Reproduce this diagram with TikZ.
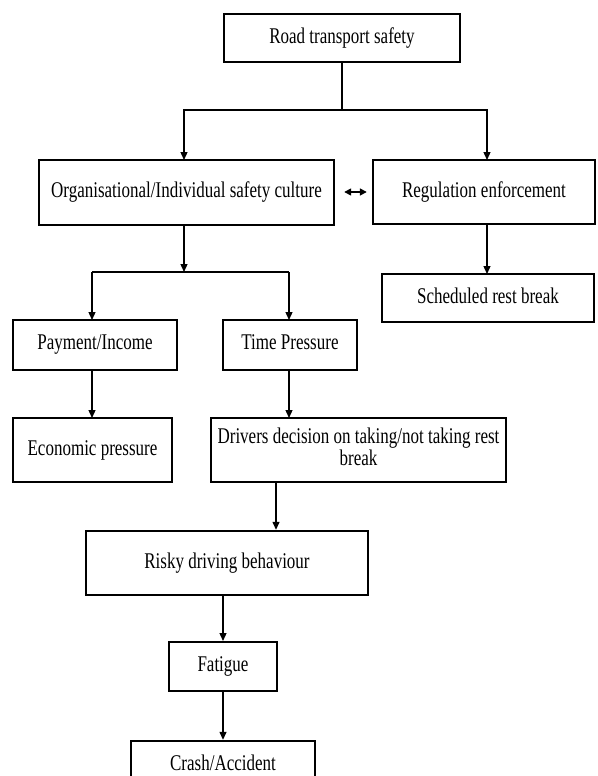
\documentclass[tikz,border=0pt]{standalone}
\usepackage{fontspec}
\setmainfont{Liberation Serif}
\usetikzlibrary{arrows.meta,calc}
\newcommand{\vstr}[1]{\scalebox{1}[1.32]{#1}}
\begin{document}
\begin{tikzpicture}[x=1pt,y=-1pt,
  box/.style={draw, line width=2.4pt, inner sep=0pt, font=\fontsize{17pt}{17pt}\selectfont},
  conn/.style={line width=1.3pt},
  arr/.style={line width=1.3pt, -{Triangle[length=8pt,width=7pt]}},
  darr/.style={line width=1.6pt, {Triangle[length=7pt,width=7pt]}-{Triangle[length=7pt,width=7pt]}}]
\useasboundingbox (0,0) rectangle (597,776);
\clip (0,0) rectangle (597,776);
\fill[white] (0,0) rectangle (597,776);

\node[box, line width=2.8pt, minimum width=236pt, minimum height=48pt] (top) at (342,38) {\vstr{Road transport safety}};
\node[box, minimum width=295pt, minimum height=65pt] (org) at (186.5,192.5) {\vstr{Organisational/Individual safety culture}};
\node[box, minimum width=222pt, minimum height=64pt] (reg) at (484,192) {\vstr{Regulation enforcement}};
\node[box, minimum width=212pt, minimum height=48pt] (sched) at (488,298) {\raisebox{5pt}{\vstr{Scheduled rest break}}};
\node[box, minimum width=164pt, minimum height=50pt] (pay) at (95,345) {\raisebox{-4pt}{\vstr{Payment/Income}}};
\node[box, line width=2pt, minimum width=134pt, minimum height=50pt] (time) at (290,345) {\raisebox{5pt}{\vstr{Time Pressure}}};
\node[box, minimum width=159pt, minimum height=64pt] (econ) at (92.5,450) {\vstr{Economic pressure}};
\node[box, minimum width=295pt, minimum height=64pt] (drv) at (358.5,450) {\vstr{\begin{tabular}{@{}c@{}}Drivers decision on taking/not taking rest\\break\end{tabular}}};
\node[box, minimum width=282pt, minimum height=64pt] (risk) at (227,563) {\raisebox{3pt}{\vstr{Risky driving behaviour}}};
\node[box, line width=2pt, minimum width=108pt, minimum height=49pt] (fat) at (223,666.5) {\raisebox{3pt}{\vstr{Fatigue}}};
\node[box, minimum width=184pt, minimum height=64pt] (crash) at (223,773) {\raisebox{20pt}{\vstr{Crash/Accident}}};

\coordinate (j1) at (342,110);
\coordinate (j2) at (184,272);
\coordinate (dx) at (276,0);

\draw[conn] (top.south) -- (j1);
\draw[arr] (j1) -| (184,160);
\draw[arr] (j1) -| (487,160);
\draw[darr, shorten <=9pt, shorten >=5pt] (org.east |- 0,192) -- (reg.west |- 0,192);
\draw[arr] (j2 |- org.south) -- (j2);
\draw[conn] (92,272) -- (289,272);
\draw[arr] (92,272) -- (92,320);
\draw[arr] (289,272) -- (289,320);
\draw[arr] (487,224) -- (487,274);
\draw[arr] (92,370) -- (92,418);
\draw[arr] (289,370) -- (289,418);
\draw[arr] (dx |- drv.south) -- (dx |- risk.north);
\draw[arr] (fat.north |- risk.south) -- (fat.north);
\draw[arr] (fat.south) -- (crash.north);
\end{tikzpicture}
\end{document}
